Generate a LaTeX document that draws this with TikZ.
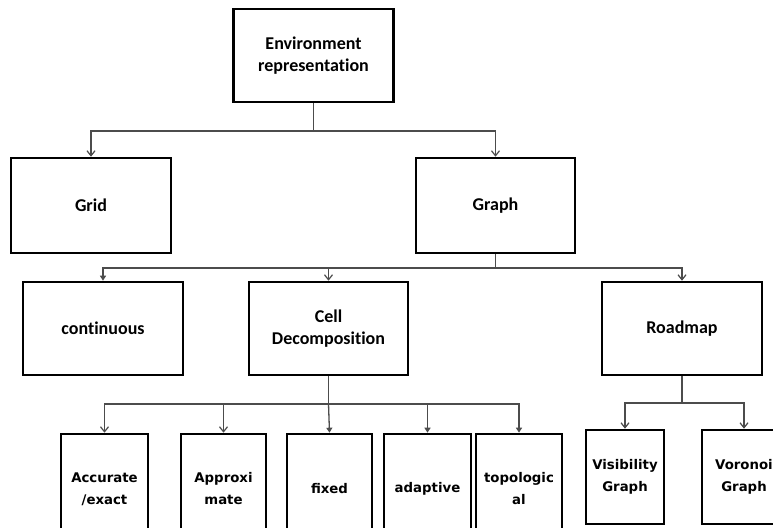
\documentclass[tikz,border=0pt]{standalone}
\usepackage{fontspec}
\usetikzlibrary{arrows.meta}
\newfontfamily\headfont[Ligatures=NoCommon]{Carlito}
\newfontfamily\leaffont{DejaVu Sans}
\tikzset{
  box/.style={draw=black, line width=2.6pt, fill=white, align=center, inner sep=0pt},
  headbox/.style={box, font=\headfont\bfseries\fontsize{18}{22}\selectfont},
  leafbox/.style={box, font=\leaffont\bfseries\fontsize{13.3}{22}\selectfont},
  link/.style={draw=black!70, line width=1.3pt},
  openarrow/.style={link, -{Straight Barb[length=5pt,width=8pt,line width=1.2pt]}},
  solidarrow/.style={link, -{Triangle[length=5pt,width=6pt]}},
}
\begin{document}
\begin{tikzpicture}[x=1pt,y=-1pt]
  \useasboundingbox (0,0) rectangle (773,527);
  \clip (0,0) rectangle (773,527);
  \fill[white] (0,0) rectangle (773,527);

  % upper levels
  \node[headbox, minimum width=160pt, minimum height=93pt] (env)  at (313.5,55.5) {Environment\\representation};
  \node[headbox, minimum width=160pt, minimum height=95pt] (grid)  at (91,205.5) {Grid};
  \node[headbox, minimum width=159pt, minimum height=95pt] (graph) at (495.5,205.5) {Graph};
  \node[headbox, minimum width=160pt, minimum height=93pt] (cont)  at (103,328.5) {continuous};
  \node[headbox, minimum width=159pt, minimum height=93pt] (cell)  at (328.5,328.5) {Cell\\Decomposition};
  \node[headbox, minimum width=160pt, minimum height=93pt] (road)  at (682,328.5) {Roadmap};

  % leaves of the cell decomposition
  \node[leafbox, minimum width=87pt, minimum height=110pt] (exact)  at (104.5,489) {Accurate\\/exact};
  \node[leafbox, minimum width=85pt, minimum height=110pt] (approx) at (223.5,489) {Approxi\\mate};
  \node[leafbox, minimum width=85pt, minimum height=110pt] (fixed)  at (329.5,489) {fixed};
  \node[leafbox, minimum width=87pt, minimum height=110pt] (adapt)  at (427.5,489) {adaptive};
  \node[leafbox, minimum width=86pt, minimum height=110pt] (topo)   at (519,489) {topologic\\al};

  % leaves of the roadmap
  \node[leafbox, minimum width=78pt, minimum height=94pt] (vis) at (625,477) {Visibility\\Graph};
  \node[leafbox, minimum width=84pt, minimum height=94pt] (vor) at (744,477) {Voronoi\\Graph};

  % branch points
  \coordinate (j1) at (313.5,131);
  \coordinate (j2) at (495.5,268);
  \coordinate (j3) at (328.5,404);
  \coordinate (j4) at (682,403);

  % connectors
  \draw[link] (env.south) -- (j1);
  \draw[openarrow] (j1) -| (grid.north);
  \draw[openarrow] (j1) -| (graph.north);

  \draw[link] (graph.south) -- (j2);
  \draw[solidarrow] (j2) -| (cont.north);
  \draw[openarrow] (j2) -| (cell.north);
  \draw[openarrow] (j2) -| (road.north);

  \draw[link] (cell.south) -- (j3);
  \draw[openarrow] (j3) -| (exact.north);
  \draw[openarrow] (j3) -| (approx.north);
  \draw[solidarrow] (j3) -- (fixed.north);
  \draw[solidarrow] (j3) -| (adapt.north);
  \draw[solidarrow] (j3) -| (topo.north);

  \draw[link] (road.south) -- (j4);
  \draw[openarrow] (j4) -| (vis.north);
  \draw[openarrow] (j4) -| (vor.north);
\end{tikzpicture}
\end{document}
